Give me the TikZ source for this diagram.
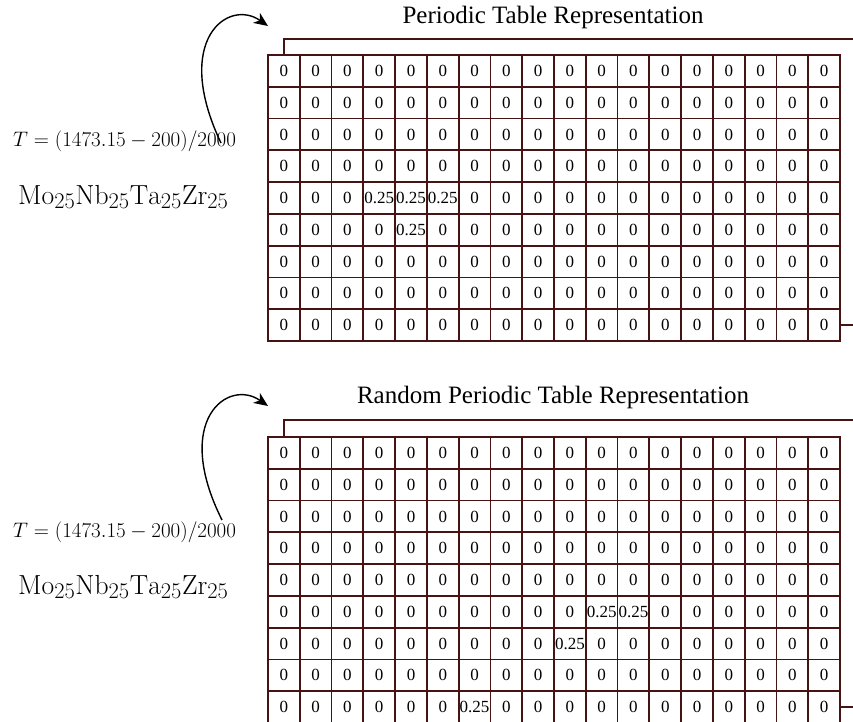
\RequirePackage{fix-cm}
\documentclass[tikz,border=0pt]{standalone}
\usepackage{fontspec}
\newfontfamily\tnr{Liberation Serif}
\usetikzlibrary{arrows.meta}
\definecolor{gridc}{RGB}{70,18,18}
\DeclareMathSizes{24}{24}{19.5}{15}

% non-zero entries of the two tables (panel-row-column)
\pgfkeyssetvalue{/cellv/a-4-3}{0.25}
\pgfkeyssetvalue{/cellv/a-4-4}{0.25}
\pgfkeyssetvalue{/cellv/a-4-5}{0.25}
\pgfkeyssetvalue{/cellv/a-5-4}{0.25}
\pgfkeyssetvalue{/cellv/b-5-10}{0.25}
\pgfkeyssetvalue{/cellv/b-5-11}{0.25}
\pgfkeyssetvalue{/cellv/b-6-9}{0.25}
\pgfkeyssetvalue{/cellv/b-8-6}{0.25}

\newcommand\alloy{\scalebox{1.15}{$\mathrm{Mo}_{25}\mathrm{Nb}_{25}\mathrm{Ta}_{25}\mathrm{Zr}_{25}$}}

\tikzset{
  cell/.style={draw=gridc, line width=1.8pt, minimum width=31.78pt,
    minimum height=31.78pt, inner sep=0pt,
    font=\tnr\fontsize{17}{17}\selectfont},
  ttl/.style={anchor=base, inner sep=0pt, font=\tnr\fontsize{25}{25}\selectfont},
  bracket/.style={draw=gridc, line width=1.5pt},
  curvearrow/.style={line width=1.4pt,
    -{Stealth[length=14pt,width=12pt,inset=4pt]}},
  templbl/.style={anchor=base west, inner sep=0pt, font=\fontsize{21}{21}\selectfont},
  complbl/.style={anchor=base west, inner sep=0pt, font=\fontsize{24}{24}\selectfont},
}

\begin{document}
\begin{tikzpicture}[x=1pt,y=-1pt]
\useasboundingbox (0,0) rectangle (853,721);
\clip (0,0) rectangle (853,721);

% the two 9x18 grids
\foreach \p/\gy in {a/55,b/437}{
  \foreach \r in {0,...,8}{
    \foreach \c in {0,...,17}{
      \pgfkeysifdefined{/cellv/\p-\r-\c}
        {\pgfkeysgetvalue{/cellv/\p-\r-\c}\cv}{\def\cv{0}}
      \node[cell] (\p-\r-\c) at ({268+31.78*(\c+0.5)},{\gy+31.78*(\r+0.5)}) {\cv};
    }
  }
}

% upper panel
\node[ttl] (aTitle) at (553,23) {Periodic Table Representation};
\coordinate (aTopEnd) at (870,39);
\draw[bracket] (a-0-0.north) |- (aTopEnd);
\coordinate (aOut) at ([xshift=30pt]a-8-17.east);
\draw[bracket] (a-8-17.east) -- (aOut);
\node[templbl] (aT) at (13,146) {$T = (1473.15 - 200)/2000$};
\node[complbl] (aC) at (18,204) {\alloy};
\coordinate (aStart) at (221,143);
\coordinate (aTip) at (268,26);
\draw[curvearrow] (aStart) .. controls (172,40) and (228,-2) .. (aTip);

% lower panel
\node[ttl] (bTitle) at (553,403) {Random Periodic Table Representation};
\coordinate (bTopEnd) at (870,420);
\draw[bracket] (b-0-0.north) |- (bTopEnd);
\coordinate (bOut) at ([xshift=30pt]b-8-17.east);
\draw[bracket] (b-8-17.east) -- (bOut);
\node[templbl] (bT) at (13,537) {$T = (1473.15 - 200)/2000$};
\node[complbl] (bC) at (18,594) {\alloy};
\coordinate (bStart) at (222,520);
\coordinate (bTip) at (268,406);
\draw[curvearrow] (bStart) .. controls (172,420) and (228,378) .. (bTip);
\end{tikzpicture}
\end{document}
